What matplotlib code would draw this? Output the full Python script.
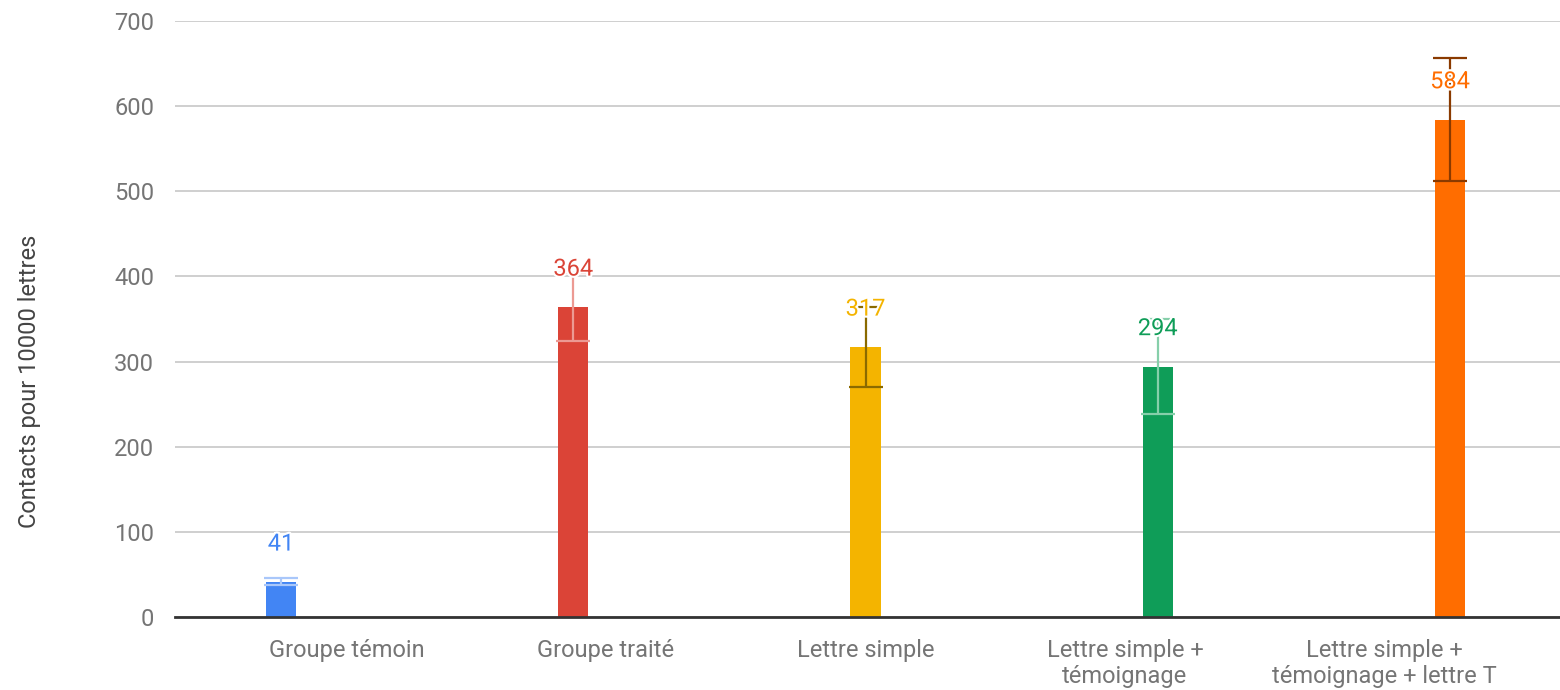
import matplotlib
matplotlib.use("Agg")
import matplotlib.pyplot as plt
import matplotlib.patheffects as pe
import numpy as np

categories = ["Groupe témoin", "Groupe traité", "Lettre simple",
              "Lettre simple +\ntémoignage", "Lettre simple +\ntémoignage + lettre T"]
values = [41, 364, 317, 294, 584]
err_low = [37, 324, 270, 238, 512]
err_high = [46, 404, 364, 350, 656]
bar_colors = ["#4285F4", "#DB4437", "#F4B400", "#0F9D58", "#FF6D00"]
err_colors = ["#A9C7FA", "#EC9A93", "#8A6A00", "#86CFAA", "#8A3A00"]
yticks = [0, 100, 200, 300, 400, 500, 600, 700]
ylabel = "Contacts pour 10000 lettres"

plt.rcParams['font.family'] = ['Roboto', 'DejaVu Sans']

fig = plt.figure(figsize=(15.6, 6.9), dpi=100)
ax = fig.add_axes([175/1560, 1 - 617/690, 1 - 175/1560, (617 - 21)/690])

x = np.arange(len(values))
ax.bar(x, values, width=0.104, color=bar_colors, zorder=2)

for xi, v, lo, hi, ec in zip(x, values, err_low, err_high, err_colors):
    ax.errorbar([xi], [v], yerr=[[v - lo], [hi - v]], fmt='none', ecolor=ec,
                elinewidth=1.6, capsize=12, capthick=1.6, zorder=3)

for xi, v, c in zip(x, values, bar_colors):
    t = ax.annotate(str(v), (xi, v), xytext=(0, 38), textcoords='offset pixels',
                    ha='center', va='center', color=c, fontsize=17, zorder=4)
    t.set_path_effects([pe.withStroke(linewidth=3, foreground='white')])

ax.set_xlim(-106/292.25, 4 + 110/292.25)
ax.set_ylim(0, 700)
ax.set_yticks(yticks)
# category labels are spaced a little tighter than the bars, centred on the middle bar
mid = (len(categories) - 1) / 2
label_pos = mid + (np.arange(len(categories)) - mid) * (259.5 / 292.25)
ax.set_xticks(label_pos)
ax.set_xticklabels(categories, linespacing=1.15)
ax.tick_params(axis='both', length=0, labelsize=17, labelcolor='#757575')
ax.tick_params(axis='y', pad=15)
ax.tick_params(axis='x', pad=16)
ax.grid(axis='y', color='#CCCCCC', linewidth=1.3, zorder=0)
ax.set_axisbelow(True)
for s in ['top', 'right', 'left']:
    ax.spines[s].set_visible(False)
ax.spines['bottom'].set_color('#333333')
ax.spines['bottom'].set_linewidth(2)
ax.spines['bottom'].set_zorder(5)

fig.text(30/1560, 1 - 381/690, ylabel, rotation=90, ha='center', va='center',
         fontsize=17, color='#444444')

fig.savefig("out.png", dpi=100)
